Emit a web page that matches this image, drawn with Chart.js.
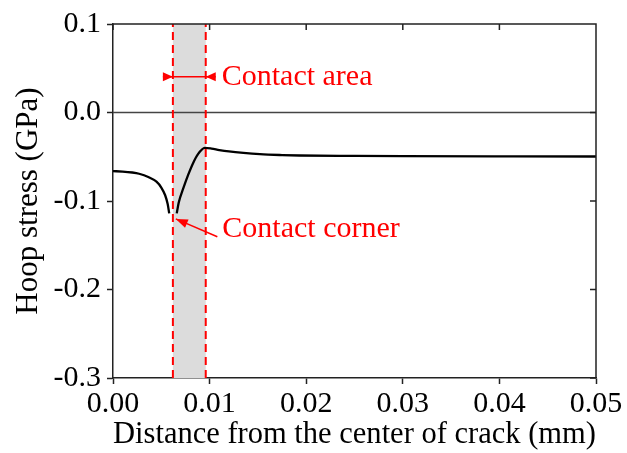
<!DOCTYPE html>
<html>
<head>
<meta charset="utf-8">
<script src="https://cdn.jsdelivr.net/npm/chart.js@4.4.1/dist/chart.umd.min.js"></script>
<style>
  html, body { margin: 0; padding: 0; background: #fff; }
</style>
</head>
<body>
<canvas id="hoopChart" width="627" height="453"></canvas>
<script>
// Hoop stress along the crack face (GPa) vs distance from the crack center (mm)
const xTicks = [0, 0.01, 0.02, 0.03, 0.04, 0.05];
const yTicks = [-0.3, -0.2, -0.1, 0.0, 0.1];

// branch inside the open part of the crack, up to the contact corner
const leftX = [0, 0.0010, 0.0020, 0.0027, 0.00365, 0.0045, 0.0050, 0.0054, 0.00566, 0.00582];
const leftY = [-0.0663, -0.0667, -0.0678, -0.0692, -0.0728, -0.0782, -0.0848, -0.0935, -0.1035, -0.1140];

// branch from the contact corner outwards
const rightX = [0.0066, 0.0068, 0.0073, 0.0078, 0.0083, 0.0088, 0.0095, 0.0102, 0.0110, 0.0120, 0.0135, 0.0152, 0.0175, 0.0193, 0.0250, 0.0300, 0.0400, 0.0500];
const rightY = [-0.114, -0.102, -0.085, -0.070, -0.057, -0.047, -0.0400, -0.0408, -0.0424, -0.0440, -0.0457, -0.0471, -0.0481, -0.0486, -0.0491, -0.0494, -0.0496, -0.0497];

// contact zone limits (mm)
const contactStart = 0.0062;
const contactEnd = 0.0096;

const toPoints = (xs, ys) => xs.map((v, i) => ({ x: v, y: ys[i] }));
const RED = '#ff0000';
const FONT = "'Liberation Serif', 'Times New Roman', serif";

Chart.defaults.font.family = FONT;
Chart.defaults.color = '#000';

function arrowHead(ctx, tipX, tipY, fromX, fromY, len, half) {
  const ang = Math.atan2(tipY - fromY, tipX - fromX);
  ctx.beginPath();
  ctx.moveTo(tipX, tipY);
  ctx.lineTo(tipX - len * Math.cos(ang) + half * Math.sin(ang), tipY - len * Math.sin(ang) - half * Math.cos(ang));
  ctx.lineTo(tipX - len * Math.cos(ang) - half * Math.sin(ang), tipY - len * Math.sin(ang) + half * Math.cos(ang));
  ctx.closePath();
  ctx.fill();
}

// shaded contact zone, box frame with inner ticks, and the red notes
const notes = {
  id: 'notes',
  beforeDatasetsDraw(chart) {
    const { ctx, chartArea: a, scales: { x } } = chart;
    const x0 = x.getPixelForValue(contactStart), x1 = x.getPixelForValue(contactEnd);
    ctx.save();
    ctx.fillStyle = '#dcdcdc';
    ctx.fillRect(x0, a.top, x1 - x0, a.bottom - a.top);
    ctx.restore();
  },
  afterDraw(chart) {
    const { ctx, chartArea: a, scales: { x, y } } = chart;
    ctx.save();
    ctx.strokeStyle = '#222';
    ctx.lineWidth = 1.5;
    ctx.beginPath();
    ctx.moveTo(a.left, a.top);
    ctx.lineTo(a.right, a.top);
    ctx.lineTo(a.right, a.bottom);
    xTicks.forEach(v => {
      const px = x.getPixelForValue(v);
      ctx.moveTo(px, a.top);
      ctx.lineTo(px, a.top + 6);
    });
    yTicks.forEach(v => {
      const py = y.getPixelForValue(v);
      ctx.moveTo(a.right, py);
      ctx.lineTo(a.right - 6, py);
    });
    ctx.stroke();

    ctx.strokeStyle = RED;
    ctx.fillStyle = RED;
    ctx.lineWidth = 1.5;

    // "Contact area" dimension arrows
    const x0 = x.getPixelForValue(contactStart), x1 = x.getPixelForValue(contactEnd);
    const ya = y.getPixelForValue(0.0404);
    ctx.beginPath();
    ctx.moveTo(x0 - 10, ya);
    ctx.lineTo(x1 + 10, ya);
    ctx.stroke();
    arrowHead(ctx, x0, ya, x0 - 10, ya, 10, 4.5);
    arrowHead(ctx, x1, ya, x1 + 10, ya, 10, 4.5);

    // "Contact corner" pointer
    const tipX = x.getPixelForValue(0.0065), tipY = y.getPixelForValue(-0.1202);
    const tailX = x.getPixelForValue(0.0108), tailY = y.getPixelForValue(-0.1404);
    ctx.beginPath();
    ctx.moveTo(tailX, tailY);
    ctx.lineTo(tipX, tipY);
    ctx.stroke();
    arrowHead(ctx, tipX, tipY, tailX, tailY, 12, 4.5);

    ctx.font = '30px ' + FONT;
    ctx.textAlign = 'left';
    ctx.textBaseline = 'middle';
    ctx.fillText('Contact area', x1 + 16, ya);
    ctx.fillText('Contact corner', tailX + 5, y.getPixelForValue(-0.1315));
    ctx.restore();
  }
};

new Chart(document.getElementById('hoopChart').getContext('2d'), {
  type: 'line',
  data: {
    datasets: [
      {
        data: [{ x: contactStart, y: yTicks[0] }, { x: contactStart, y: yTicks[yTicks.length - 1] }],
        borderColor: RED, borderWidth: 2, borderDash: [8, 5], pointRadius: 0, order: 0
      },
      {
        data: [{ x: contactEnd, y: yTicks[0] }, { x: contactEnd, y: yTicks[yTicks.length - 1] }],
        borderColor: RED, borderWidth: 2, borderDash: [8, 5], pointRadius: 0, order: 0
      },
      {
        data: toPoints(leftX, leftY),
        borderColor: '#000', borderWidth: 2.3, pointRadius: 0,
        cubicInterpolationMode: 'monotone', order: 1
      },
      {
        data: toPoints(rightX, rightY),
        borderColor: '#000', borderWidth: 2.3, pointRadius: 0,
        cubicInterpolationMode: 'monotone', order: 1
      },
      {
        // zero reference line
        data: [{ x: xTicks[0], y: 0 }, { x: xTicks[xTicks.length - 1], y: 0 }],
        borderColor: '#444', borderWidth: 1.5, pointRadius: 0, order: 2
      }
    ]
  },
  options: {
    responsive: false,
    animation: false,
    devicePixelRatio: 1,
    layout: { padding: { top: 22, right: 31, left: 0, bottom: 0 } },
    plugins: { legend: { display: false }, tooltip: { enabled: false } },
    scales: {
      x: {
        type: 'linear',
        min: 0, max: 0.05,
        afterBuildTicks: s => { s.ticks = xTicks.map(v => ({ value: v })); },
        afterFit: s => { s.height = 75; },
        ticks: {
          callback: v => v.toFixed(2),
          font: { size: 30 }, color: '#000',
          maxRotation: 0, autoSkip: false, padding: 2
        },
        grid: { drawOnChartArea: false, drawTicks: true, tickLength: 6, color: '#222', tickWidth: 1.5 },
        border: { display: true, color: '#222', width: 1.5 },
        title: { display: true, text: 'Distance from the center of crack (mm)', font: { size: 31 }, color: '#000', padding: 0 }
      },
      y: {
        type: 'linear',
        min: -0.3, max: 0.1,
        afterBuildTicks: s => { s.ticks = yTicks.map(v => ({ value: v })); },
        afterFit: s => { s.width = 113; },
        ticks: {
          callback: v => v.toFixed(1),
          font: { size: 30 }, color: '#000',
          autoSkip: false, padding: 6
        },
        grid: { drawOnChartArea: false, drawTicks: true, tickLength: 6, color: '#222', tickWidth: 1.5 },
        border: { display: true, color: '#222', width: 1.5 },
        title: { display: true, text: 'Hoop stress (GPa)', font: { size: 31 }, color: '#000', padding: { top: 10, bottom: 0 } }
      }
    }
  },
  plugins: [notes]
});
</script>
</body>
</html>
